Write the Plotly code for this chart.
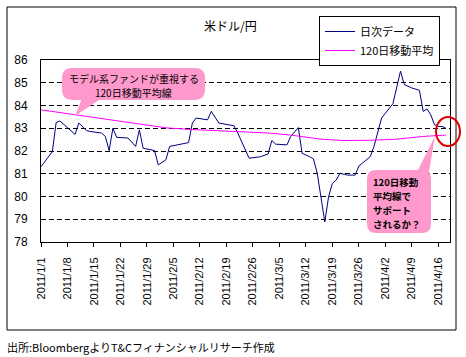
import plotly.graph_objects as go
import pandas as pd

# ---- data ----
daily_dates = [
    "2011-01-01", "2011-01-04", "2011-01-05", "2011-01-06", "2011-01-10", "2011-01-11",
    "2011-01-13", "2011-01-14", "2011-01-17", "2011-01-18", "2011-01-19", "2011-01-20",
    "2011-01-21", "2011-01-24", "2011-01-26", "2011-01-27", "2011-01-28", "2011-01-31",
    "2011-02-01", "2011-02-03", "2011-02-04", "2011-02-09", "2011-02-10", "2011-02-11",
    "2011-02-14", "2011-02-15", "2011-02-17", "2011-02-20", "2011-02-21", "2011-02-22",
    "2011-02-25", "2011-02-28", "2011-03-02", "2011-03-03", "2011-03-04", "2011-03-07",
    "2011-03-08", "2011-03-10", "2011-03-11", "2011-03-13", "2011-03-14", "2011-03-15",
    "2011-03-16", "2011-03-17", "2011-03-18", "2011-03-19", "2011-03-20", "2011-03-21",
    "2011-03-23", "2011-03-25", "2011-03-26", "2011-03-28", "2011-03-29", "2011-03-30",
    "2011-03-31", "2011-04-01", "2011-04-04", "2011-04-05", "2011-04-06", "2011-04-07",
    "2011-04-09", "2011-04-11", "2011-04-12", "2011-04-13", "2011-04-14", "2011-04-15",
    "2011-04-16", "2011-04-17", "2011-04-18",
]
daily_values = [
    81.31, 81.97, 83.25, 83.32, 82.73, 83.23,
    82.90, 82.86, 82.79, 82.64, 82.02, 83.00,
    82.60, 82.57, 82.20, 82.93, 82.12, 82.02,
    81.39, 81.61, 82.20, 82.37, 83.23, 83.45,
    83.37, 83.74, 83.23, 83.15, 83.11, 82.79,
    81.68, 81.75, 81.87, 82.46, 82.30, 82.27,
    82.64, 83.03, 81.90, 81.75, 81.65, 81.02,
    79.99, 78.88, 79.99, 80.58, 80.72, 81.02,
    80.94, 80.94, 81.34, 81.61, 81.75, 82.20,
    82.86, 83.45, 84.08, 84.84, 85.51, 84.92,
    84.77, 84.67, 83.74, 83.85, 83.59, 83.15,
    83.08, 83.08, 83.00,
]
ma_dates = [
    "2011-01-01", "2011-01-11", "2011-01-21", "2011-01-27", "2011-02-03", "2011-02-09",
    "2011-02-23", "2011-03-02", "2011-03-08", "2011-03-16", "2011-03-22", "2011-03-29",
    "2011-04-05", "2011-04-12", "2011-04-18",
]
ma_values = [
    83.81, 83.57, 83.32, 83.20, 83.02, 82.95,
    82.84, 82.79, 82.70, 82.52, 82.46, 82.47,
    82.52, 82.64, 82.70,
]
tick_dates = list(pd.date_range("2011-01-01", "2011-04-16", freq="7D"))
tick_labels = [f"{d.year}/{d.month}/{d.day}" for d in tick_dates]
y_ticks = [78, 79, 80, 81, 82, 83, 84, 85, 86]

n = min(len(daily_dates), len(daily_values))
daily_dates = daily_dates[:n]
daily_values = daily_values[:n]

W, H = 466, 357
PL, PR, PT, PB = 41, 450, 60, 242


def px(x):
    return (x - PL) / (PR - PL)


def py(y):
    return (PB - y) / (PB - PT)


def P(x, y):
    return f"{px(x):.5f},{py(y):.5f}"


def rrect(x0, y0, x1, y1, r):
    return (f"M{P(x0 + r, y0)} L{P(x1 - r, y0)} Q{P(x1, y0)} {P(x1, y0 + r)} "
            f"L{P(x1, y1 - r)} Q{P(x1, y1)} {P(x1 - r, y1)} L{P(x0 + r, y1)} "
            f"Q{P(x0, y1)} {P(x0, y1 - r)} L{P(x0, y0 + r)} Q{P(x0, y0)} {P(x0 + r, y0)} Z")


def tri(a, b, c):
    return f"M{P(*a)} L{P(*b)} L{P(*c)} Z"


PINK = "#FF99CC"
JP = "Noto Sans CJK JP"
LAT = "Liberation Sans"

fig = go.Figure()
fig.add_trace(go.Scatter(x=daily_dates, y=daily_values, mode="lines", name="日次データ",
                         line=dict(color="#000080", width=1)))
fig.add_trace(go.Scatter(x=ma_dates, y=ma_values, mode="lines", name="120日移動平均",
                         line=dict(color="#FF00FF", width=1)))

shapes = [
    dict(type="rect", xref="paper", yref="paper", x0=px(7), x1=px(456), y0=py(330), y1=py(7),
         line=dict(color="black", width=1), layer="below"),
    dict(type="path", xref="paper", yref="paper", path=rrect(62, 68, 205, 100, 10),
         fillcolor=PINK, line=dict(width=0)),
    dict(type="path", xref="paper", yref="paper", path=tri((82, 98), (75, 116), (102, 98)),
         fillcolor=PINK, line=dict(width=0)),
    dict(type="path", xref="paper", yref="paper", path=rrect(367, 170, 431, 233, 9),
         fillcolor=PINK, line=dict(width=0)),
    dict(type="path", xref="paper", yref="paper", path=tri((417, 172), (435, 136), (429, 172)),
         fillcolor=PINK, line=dict(width=0)),
    dict(type="circle", xref="paper", yref="paper", x0=px(436), x1=px(460), y0=py(146), y1=py(117),
         line=dict(color="#E00000", width=2)),
]


def note(text, x, y, size=10, anchor="center", bold=False):
    t = f"<b>{text}</b>" if bold else text
    return dict(text=t, xref="paper", yref="paper", x=px(x), y=py(y), showarrow=False,
                font=dict(family=JP, size=size, color="black"), xanchor=anchor, yanchor="middle")


annotations = [
    note("米ドル/円", 230, 25, size=12),
    note("モデル系ファンドが重視する", 133.5, 78),
    note("120日移動平均線", 133.5, 92),
    note("120日移動", 371, 182, size=9.5, anchor="left", bold=True),
    note("平均線で", 371, 196, size=9.5, anchor="left", bold=True),
    note("サポート", 371, 210, size=9.5, anchor="left", bold=True),
    note("されるか？", 371, 224, size=9.5, anchor="left", bold=True),
    note("出所:BloombergよりT&Cフィナンシャルリサーチ作成", 5, 347, size=11, anchor="left"),
]

fig.update_layout(
    width=W, height=H, autosize=False,
    margin=dict(l=PL, r=W - PR, t=PT, b=H - PB, pad=0),
    paper_bgcolor="white", plot_bgcolor="white",
    font=dict(family=JP, size=11, color="black"),
    showlegend=True,
    legend=dict(x=px(319), y=py(16), xanchor="left", yanchor="top",
                bordercolor="black", borderwidth=1, bgcolor="white",
                font=dict(family=JP, size=11), tracegroupgap=0,
                itemwidth=30),
    shapes=shapes, annotations=annotations,
)
fig.update_xaxes(
    type="date", range=["2011-01-01", "2011-04-19 02:00"],
    tickvals=tick_dates, ticktext=tick_labels, tickangle=-90,
    ticks="outside", ticklen=4, tickcolor="black",
    tickfont=dict(family=LAT, size=11, color="black"),
    showline=True, linecolor="black", linewidth=1, mirror=True,
    showgrid=False, zeroline=False, ticklabelstandoff=6,
)
fig.update_yaxes(
    range=[78, 86], tickvals=y_ticks, ticks="",
    tickfont=dict(family=LAT, size=12, color="black"),
    showline=True, linecolor="black", linewidth=1, mirror=True,
    showgrid=True, gridcolor="black", gridwidth=1, griddash="5px,3px",
    zeroline=False, ticklabelstandoff=10,
)

fig.write_html("out.html", config={"displayModeBar": False},
               post_script="document.body.style.margin='0';document.body.style.overflow='hidden';")
